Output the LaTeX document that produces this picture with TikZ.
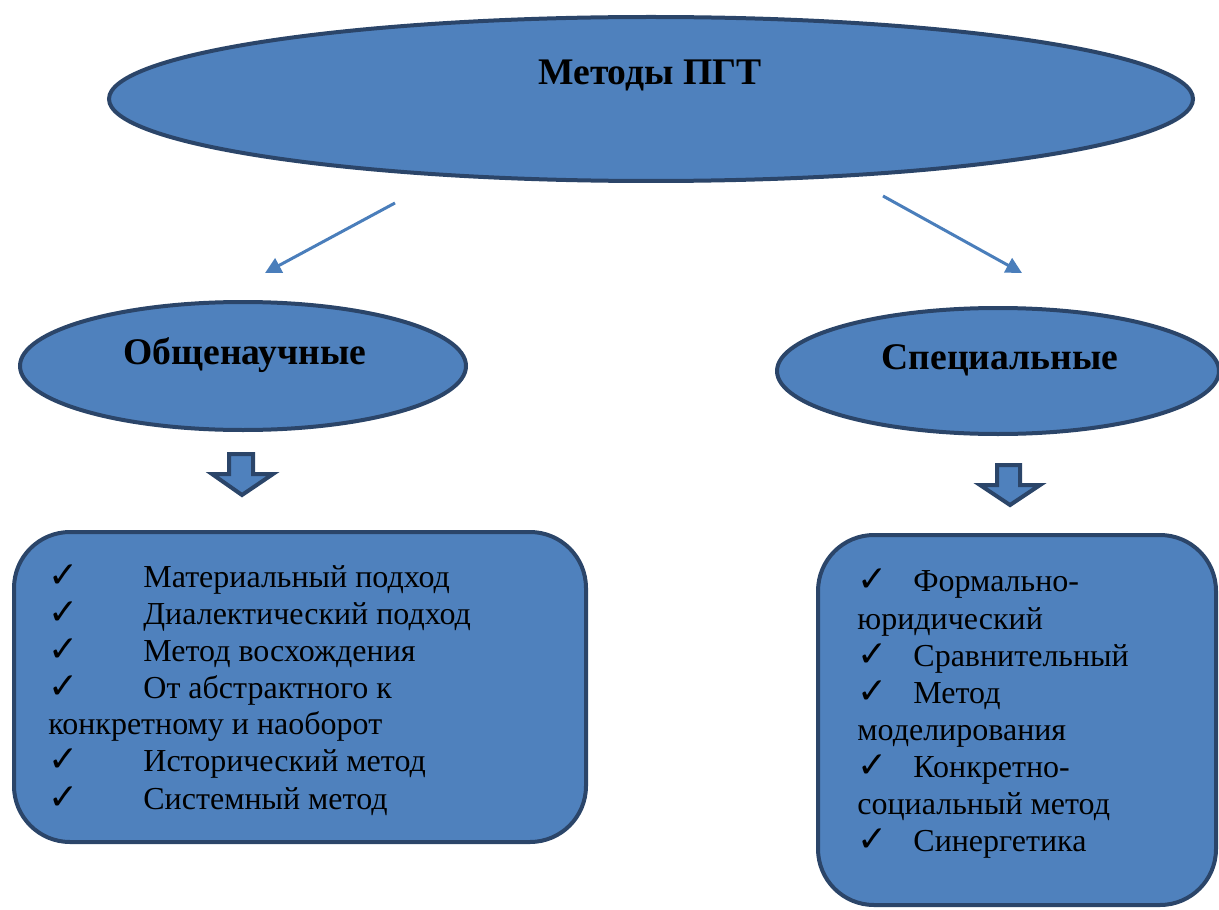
\documentclass[tikz,border=0pt]{standalone}
\usepackage{fontspec}
\setmainfont{Liberation Serif}
\newfontfamily\tickfont{DejaVu Sans}
\usetikzlibrary{positioning,shapes.geometric,arrows.meta}
\definecolor{ovalfill}{HTML}{4F81BD}
\definecolor{ovalline}{HTML}{2B4569}
\definecolor{linkblue}{HTML}{4A7EBB}
\newcommand{\chkitem}[2]{\makebox[#1][l]{{\tickfont\fontsize{18}{18}\selectfont ✓}}#2}

\begin{document}
\begin{tikzpicture}[x=0.5pt, y=-0.5pt,
    oval/.style={ellipse, draw=ovalline, fill=ovalfill, line width=2pt, inner sep=0pt},
    heading/.style={font=\fontsize{18.8}{22}\selectfont\bfseries},
    listbox/.style={rectangle, rounded corners=28pt, draw=ovalline, fill=ovalfill, line width=2pt},
    item/.style={anchor=base west, inner sep=0pt, font=\fontsize{16}{18}\selectfont},
    link/.style={draw=linkblue, line width=1.5pt, -{Triangle[length=8pt,width=8pt]}},
    blockarrow/.style={draw=ovalline, fill=ovalfill, line width=2pt, line join=miter}]
    \useasboundingbox (0,0) rectangle (1219,909);

    \node [oval, minimum width=542pt, minimum height=82pt] (pgt) at (651,99) {};
    \node [heading] (pgttext) at (650,75) {Методы ПГТ};

    \node [oval, minimum width=223pt, minimum height=64pt] (gen) at (243,366) {};
    \node [heading] (gentext) at (245,355) {Общенаучные};
    \node [oval, minimum width=221pt, minimum height=63pt] (spec) at (998,371) {};
    \node [heading] (spectext) at (1000,360) {Специальные};

    \coordinate (l0) at (395,203);
    \coordinate (l1) at (265,273);
    \coordinate (r0) at (883,196);
    \coordinate (r1) at (1022,273);
    \draw [link] (l0) -- (l1);
    \draw [link] (r0) -- (r1);

    \draw [blockarrow] (229,454) -- (253,454) -- (253,474) -- (273,474) -- (242,495)
        -- (212,474) -- (229,474) -- cycle;
    \draw [blockarrow] (997,465) -- (1020,465) -- (1020,485) -- (1040,485) -- (1010,505)
        -- (980,485) -- (997,485) -- cycle;

    \node [listbox, minimum width=286pt, minimum height=155pt] (genbox) at (300,687) {};
    \node [listbox, minimum width=199pt, minimum height=185pt] (specbox) at (1017,720) {};

    \node [item] (g1) at (48,587) {\chkitem{47.5pt}{Материальный подход}};
    \node [item] (g2) at (48,624) {\chkitem{47.5pt}{Диалектический подход}};
    \node [item] (g3) at (48,661) {\chkitem{47.5pt}{Метод восхождения}};
    \node [item] (g4) at (48,698) {\chkitem{47.5pt}{От абстрактного к}};
    \node [item] (g5) at (48,734) {конкретному и наоборот};
    \node [item] (g6) at (48,771) {\chkitem{47.5pt}{Исторический метод}};
    \node [item] (g7) at (48,809) {\chkitem{47.5pt}{Системный метод}};

    \node [item] (s1) at (857,591) {\chkitem{28pt}{Формально-}};
    \node [item] (s2) at (857,629) {юридический};
    \node [item] (s3) at (857,666) {\chkitem{28pt}{Сравнительный}};
    \node [item] (s4) at (857,703) {\chkitem{28pt}{Метод}};
    \node [item] (s5) at (857,740) {моделирования};
    \node [item] (s6) at (857,777) {\chkitem{28pt}{Конкретно-}};
    \node [item] (s7) at (857,814) {социальный метод};
    \node [item] (s8) at (857,851) {\chkitem{28pt}{Синергетика}};
\end{tikzpicture}
\end{document}
